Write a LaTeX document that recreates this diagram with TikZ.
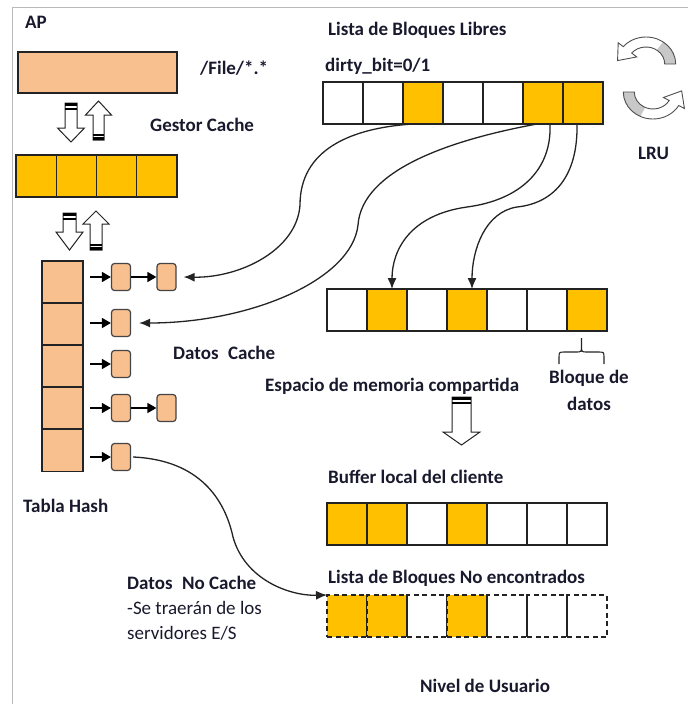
\documentclass[tikz,border=0pt]{standalone}
\usepackage{fontspec}
\setmainfont{Carlito}
\usetikzlibrary{arrows.meta}
\definecolor{gold}{HTML}{FFC000}
\definecolor{peach}{HTML}{F8BF8F}
\definecolor{ink}{RGB}{25,25,45}
\definecolor{edge}{RGB}{35,35,35}
\definecolor{lrugray}{RGB}{200,200,200}
% hollow striped arrow pointing down: cx, ytop, yhead, ytip, half shaft, half head
\newcommand{\hollowdn}[6]{%
  \draw[hol] (#1-#5,#2) -- (#1+#5,#2) -- (#1+#5,#3) -- (#1+#6,#3) -- (#1,#4)
    -- (#1-#6,#3) -- (#1-#5,#3) -- cycle;
  \fill[black] (#1-#5,#2) rectangle (#1+#5,#2+3);
  \fill[black] (#1-#5,#2+4.5) rectangle (#1+#5,#2+6.5);}
% hollow striped arrow pointing up: cx, ybottom, yhead, ytip, half shaft, half head
\newcommand{\hollowup}[6]{%
  \draw[hol] (#1-#5,#2) -- (#1+#5,#2) -- (#1+#5,#3) -- (#1+#6,#3) -- (#1,#4)
    -- (#1-#6,#3) -- (#1-#5,#3) -- cycle;
  \fill[black] (#1-#5,#2) rectangle (#1+#5,#2-3);
  \fill[black] (#1-#5,#2-4.5) rectangle (#1+#5,#2-6.5);}
\begin{document}
\begin{tikzpicture}[x=1pt,y=-1pt,
  cellw/.style={draw=edge, line width=1.3pt, fill=white, minimum width=40pt,
    minimum height=42pt, inner sep=0pt, outer sep=0pt},
  celly/.style={cellw, fill=gold},
  dcellw/.style={cellw, fill=none, dash pattern=on 5pt off 3.5pt},
  dcelly/.style={dcellw, fill=gold},
  hcell/.style={draw=edge, line width=1.3pt, fill=peach, minimum width=41pt,
    minimum height=42pt, inner sep=0pt, outer sep=0pt},
  snode/.style={draw=edge!85, line width=1.2pt, fill=peach, rounded corners=3pt,
    minimum width=19pt, minimum height=27pt, inner sep=0pt},
  lbl/.style={font=\fontsize{19}{22}\selectfont\bfseries, text=ink, anchor=west, inner sep=0pt},
  lblr/.style={font=\fontsize{19}{22}\selectfont, text=ink, anchor=west, inner sep=0pt},
  conn/.style={line width=1.3pt, draw=edge, -{Latex[length=11pt,width=9pt]}},
  harr/.style={line width=1.5pt, draw=black, -{Triangle[length=9pt,width=10pt]}},
  hol/.style={draw=edge, line width=1pt, fill=white, line join=miter},
  lruline/.style={draw=edge!80, line width=0.9pt}
]
\useasboundingbox (0,0) rectangle (688,704);
% frame
\draw[gray!55, line width=1pt] (12,704) -- (12,7) -- (688,7);

% ---- AP side ----
\node[lbl] (tAP) at (25,22) {AP};
\node[draw=edge, line width=1.3pt, fill=peach, minimum width=159pt, minimum height=41pt,
  inner sep=0pt] (apbox) at (97.5,72.5) {};
\node[lbl] (tfile) at (200,68) {/File/*.*};
\hollowdn{71}{103}{128}{142}{6}{13.5}
\hollowup{98.5}{140}{115}{101}{5.5}{13}
\node[lbl] (tgestor) at (150,125) {Gestor Cache};
\foreach \i/\x in {1/36.1,2/76.4,3/116.6,4/156.9}
  \node[celly, minimum width=40.25pt] (g\i) at (\x,176) {};
\hollowdn{69.5}{213}{232}{250}{6.5}{13.5}
\hollowup{96}{250}{224}{211}{6}{13}

% ---- hash table ----
\foreach \i/\y in {1/282,2/324,3/366,4/408,5/450.5}
  \node[hcell] (h\i) at (62.5,\y) {};
\node[snode] (s11) at (121,277) {};
\node[snode] (s12) at (166.5,277) {};
\node[snode] (s21) at (121,323) {};
\node[snode] (s31) at (121,364) {};
\node[snode] (s41) at (121,408) {};
\node[snode] (s42) at (166.5,408) {};
\node[snode] (s51) at (121,457) {};
\foreach \n in {s11,s21,s31,s41,s51}
  \draw[harr] ([xshift=-21pt]\n.west) -- (\n.west);
\draw[harr] (s11.east) -- (s12.west);
\draw[harr] (s41.east) -- (s42.west);
\node[lbl] (tdc) at (173,353) {Datos\enspace Cache};
\node[lbl] (thash) at (23,506) {Tabla Hash};

% ---- free list ----
\node[lbl] (tlista) at (328,30) {Lista de Bloques Libres};
\node[lbl] (tdirty) at (325,66) {dirty\_bit=0/1};
\foreach \i/\s in {1/cellw,2/cellw,3/celly,4/cellw,5/cellw,6/celly,7/celly}
  \node[\s] (f\i) at (343+40*\i-40,103) {};

% ---- LRU arrows ----
\begin{scope}[shift={(646,64)}, y=1pt, xscale=1.1]
  \path[fill=white] (0:17) -- (0:27) arc (0:140:27) -- (140:33) -- (-25.85,3.42)
    -- (140:11) -- (140:17) arc (140:0:17) -- cycle;
  \fill[lrugray] (0:17) -- (0:27) arc (0:55:27) -- (55:17) arc (55:0:17) -- cycle;
  \draw[lruline] (0:17) -- (0:27) arc (0:140:27) -- (140:33) -- (-25.85,3.42)
    -- (140:11) -- (140:17) arc (140:0:17) -- cycle;
\end{scope}
\begin{scope}[shift={(653,92)}, y=1pt, xscale=1.1]
  \path[fill=white] (180:27) arc (180:330:27) -- (330:33) -- (26.05,1.12)
    -- (330:11) -- (330:17) arc (330:180:17) -- cycle;
  \fill[lrugray] (180:27) arc (180:245:27) -- (245:17) arc (245:180:17) -- cycle;
  \draw[lruline] (180:27) arc (180:330:27) -- (330:33) -- (26.05,1.12)
    -- (330:11) -- (330:17) arc (330:180:17) -- cycle;
\end{scope}
\node[lbl] (tlru) at (638,153) {LRU};

% ---- shared memory ----
\foreach \i/\s in {1/cellw,2/celly,3/cellw,4/celly,5/cellw,6/cellw,7/celly}
  \node[\s] (m\i) at (347+40*\i-40,310) {};
\draw[line width=1.1pt, draw=edge]
  (559,364) -- (559,358) .. controls (559,352) .. (565,352) -- (576,352)
  .. controls (581.5,352) .. (581.5,346) -- (581.5,338)
  (581.5,346) .. controls (581.5,352) .. (587,352) -- (598,352)
  .. controls (604,352) .. (604,358) -- (604,364);
\node[lbl, anchor=center, align=center, font=\fontsize{19}{27}\selectfont\bfseries]
  (tbloque) at (589,390) {Bloque de\\datos};
\node[lbl] (tesp) at (265,386) {Espacio de memoria compartida};
\draw[hol] (452,397) -- (471,397) -- (471,432) -- (480,432) -- (461.5,445)
  -- (443,432) -- (452,432) -- cycle;
\fill[black] (452,397) rectangle (471,400);
\fill[black] (452,401.5) rectangle (471,404);

% ---- buffer ----
\node[lbl] (tbuf) at (328,477) {Buffer local del cliente};
\foreach \i/\s in {1/celly,2/celly,3/cellw,4/celly,5/cellw,6/cellw,7/cellw}
  \node[\s] (b\i) at (347+40*\i-40,524) {};

% ---- not found ----
\node[lbl] (tno) at (328,578) {Lista de Bloques No encontrados};
\foreach \i/\s in {1/dcelly,2/dcelly,3/dcellw,4/dcelly,5/dcellw,6/dcellw,7/dcellw}
  \node[\s] (d\i) at (347+40*\i-40,616) {};
\node[lbl] (tdnc) at (127,583) {Datos\enspace No Cache};
\node[lblr] (tse) at (127,608) {-Se traerán de los};
\node[lblr] (tserv) at (127,633) {servidores E/S};
\node[lbl] (tnivel) at (420,686) {Nivel de Usuario};

% ---- connectors ----
\draw[conn] ([xshift=-10pt]f3.south) .. controls (350,128) and (300,150) .. (300,205)
  .. controls (297,250) and (240,278) .. ([xshift=7pt]s12.east);
\draw[conn] ([xshift=-6pt]f6.south) .. controls (450,140) and (362,170) .. (358,225)
  .. controls (352,280) and (250,323) .. ([xshift=8pt]s21.east);
\draw[conn] ([xshift=7pt]f6.south) .. controls (552,170) and (520,200) .. (467,207)
  .. controls (410,215) and (392,250) .. ([xshift=5pt]m2.north);
\draw[conn] ([xshift=-6pt]f7.south) .. controls (578,175) and (555,203) .. (517,207)
  .. controls (485,212) and (472,250) .. ([xshift=5pt]m4.north);
\draw[conn] ([xshift=2pt]s51.east) .. controls (200,460) and (225,500) .. (233,537)
  .. controls (245,580) and (290,596) .. (d1.north west);
\end{tikzpicture}
\end{document}
